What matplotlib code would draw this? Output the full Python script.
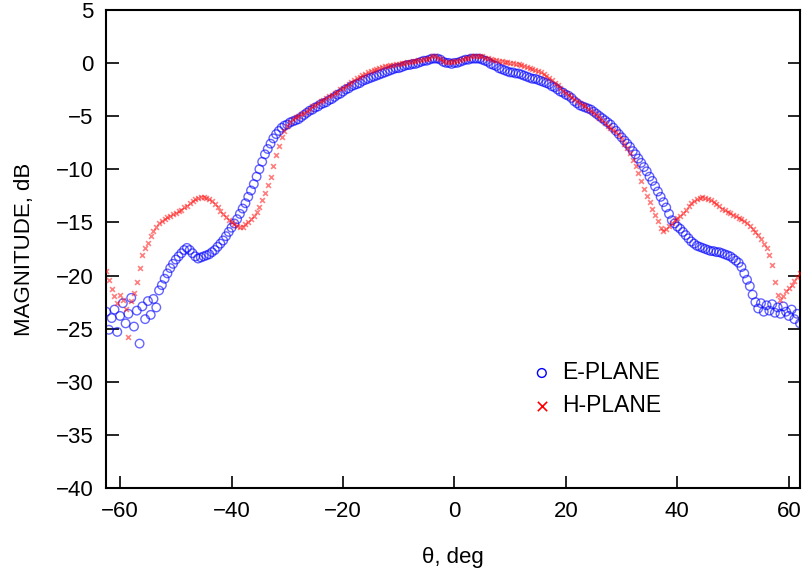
import numpy as np
import matplotlib
matplotlib.use("Agg")
import matplotlib.pyplot as plt

# measured angle grid, 0.5 deg steps
theta = np.arange(-62.5, 62.25, 0.5)

# E-plane magnitude, dB
e_plane = [
    -23.4, -25.1, -24.0, -23.2, -25.3, -23.8, -22.6, -24.5, -23.6, -22.1,
    -24.8, -23.3, -26.4, -22.9, -24.1, -22.4, -23.7, -22.2, -23.0, -21.4,
    -20.9, -20.3, -19.8, -19.3, -18.9, -18.5, -18.2, -17.9, -17.6, -17.4,
    -17.6, -17.9, -18.2, -18.4, -18.3, -18.2, -18.1, -18.0, -17.8, -17.6,
    -17.3, -17.0, -16.7, -16.3, -15.9, -15.5, -15.1, -14.7, -14.2, -13.7,
    -13.2, -12.6, -12.0, -11.4, -10.7, -10.0, -9.3, -8.6, -8.1, -7.6,
    -7.1, -6.7, -6.4, -6.1, -5.9, -5.8, -5.6, -5.5, -5.4, -5.3,
    -5.1, -4.9, -4.7, -4.5, -4.4, -4.2, -4.1, -3.9, -3.8, -3.7,
    -3.5, -3.4, -3.2, -3.0, -2.9, -2.7, -2.5, -2.4, -2.2, -2.1,
    -2.0, -1.9, -1.7, -1.6, -1.5, -1.4, -1.3, -1.2, -1.1, -1.0,
    -0.9, -0.8, -0.7, -0.6, -0.5, -0.5, -0.4, -0.3, -0.2, -0.2,
    -0.1, -0.1, 0.0, 0.1, 0.2, 0.2, 0.3, 0.4, 0.4, 0.4,
    0.3, 0.1, 0.0, 0.0, -0.1, 0.0, 0.0, 0.1, 0.2, 0.3,
    0.3, 0.4, 0.4, 0.4, 0.4, 0.3, 0.2, 0.1, -0.1, -0.2,
    -0.3, -0.5, -0.6, -0.7, -0.8, -0.9, -0.9, -1.0, -1.0, -1.1,
    -1.2, -1.3, -1.4, -1.5, -1.5, -1.6, -1.7, -1.8, -1.9, -2.0,
    -2.2, -2.3, -2.5, -2.7, -2.8, -3.0, -3.1, -3.3, -3.6, -3.8,
    -4.0, -4.1, -4.2, -4.3, -4.4, -4.6, -4.8, -5.0, -5.2, -5.4,
    -5.6, -5.8, -6.1, -6.4, -6.7, -7.0, -7.3, -7.6, -7.9, -8.3,
    -8.6, -9.0, -9.4, -9.8, -10.2, -10.7, -11.1, -11.6, -12.1, -12.6,
    -13.1, -13.6, -14.2, -14.8, -15.1, -15.4, -15.6, -15.9, -16.2, -16.5,
    -16.8, -17.0, -17.2, -17.3, -17.4, -17.5, -17.6, -17.7, -17.7, -17.8,
    -17.8, -17.9, -18.0, -18.1, -18.2, -18.4, -18.6, -18.8, -19.2, -19.8,
    -20.4, -21.0, -21.8, -22.5, -23.1, -22.6, -23.4, -22.8, -23.3, -22.7,
    -23.5, -23.0, -23.6, -22.9, -23.4, -23.8, -23.2, -24.1, -23.6, -24.5,
]

# H-plane magnitude, dB
h_plane = [
    -19.6, -20.4, -21.3, -21.9, -22.6, -21.8, -22.3, -23.1, -25.8, -22.4,
    -21.6, -20.6, -19.3, -18.1, -17.4, -16.9, -16.3, -15.8, -15.4, -15.1,
    -14.9, -14.7, -14.5, -14.4, -14.2, -14.1, -13.9, -13.8, -13.6, -13.5,
    -13.2, -13.0, -12.8, -12.7, -12.6, -12.6, -12.7, -12.8, -13.0, -13.3,
    -13.6, -13.9, -14.2, -14.5, -14.8, -15.0, -15.2, -15.3, -15.4, -15.4,
    -15.2, -15.0, -14.7, -14.4, -14.0, -13.6, -12.9, -12.2, -11.5, -10.7,
    -9.7, -8.7, -7.8, -7.0, -6.4, -5.9, -5.6, -5.3, -5.1, -5.0,
    -4.8, -4.7, -4.5, -4.3, -4.1, -4.0, -3.8, -3.6, -3.5, -3.3,
    -3.1, -3.0, -2.8, -2.7, -2.5, -2.4, -2.2, -2.0, -1.8, -1.6,
    -1.4, -1.3, -1.1, -1.0, -0.9, -0.8, -0.7, -0.6, -0.5, -0.4,
    -0.3, -0.3, -0.2, -0.2, -0.1, -0.1, 0.0, 0.0, 0.1, 0.1,
    0.2, 0.2, 0.3, 0.3, 0.4, 0.4, 0.5, 0.6, 0.6, 0.5,
    0.4, 0.2, 0.1, 0.1, 0.1, 0.2, 0.2, 0.3, 0.4, 0.5,
    0.5, 0.6, 0.6, 0.6, 0.6, 0.6, 0.5, 0.5, 0.4, 0.3,
    0.3, 0.2, 0.2, 0.1, 0.1, 0.0, 0.0, -0.1, -0.1, -0.2,
    -0.3, -0.4, -0.5, -0.6, -0.7, -0.8, -0.9, -1.0, -1.2, -1.4,
    -1.6, -1.9, -2.1, -2.4, -2.6, -2.8, -3.0, -3.2, -3.4, -3.6,
    -3.8, -4.0, -4.1, -4.3, -4.5, -4.7, -4.9, -5.2, -5.4, -5.7,
    -5.9, -6.1, -6.3, -6.5, -6.8, -7.2, -7.6, -8.0, -8.5, -9.1,
    -9.7, -10.4, -11.1, -11.9, -12.5, -13.1, -13.7, -14.3, -14.9, -15.5,
    -15.8, -15.6, -15.3, -15.1, -14.8, -14.6, -14.4, -14.1, -13.8, -13.5,
    -13.2, -13.0, -12.8, -12.7, -12.6, -12.7, -12.8, -12.9, -13.1, -13.3,
    -13.5, -13.7, -13.8, -14.0, -14.1, -14.3, -14.4, -14.6, -14.7, -14.9,
    -15.1, -15.3, -15.6, -15.9, -16.2, -16.6, -17.0, -17.4, -18.1, -19.0,
    -20.6, -21.8, -22.3, -21.9, -21.5, -21.2, -20.9, -20.5, -20.1, -19.8,
]

plt.rcParams['font.family'] = ['Liberation Sans', 'DejaVu Sans']

fig = plt.figure(figsize=(8.04, 5.71), dpi=100)
ax = fig.add_axes([0.132, 0.145, 0.863, 0.838])

ax.scatter(theta, e_plane, s=38, facecolors='none', edgecolors='blue',
           linewidths=1.0, alpha=0.6, label='E-PLANE', zorder=2)
ax.scatter(theta, h_plane, s=12, marker='x', color='red',
           linewidths=1.2, alpha=0.5, label='H-PLANE', zorder=3)

ax.set_xlim(-62.5, 62)
ax.set_ylim(-40, 5)
ax.set_xticks(np.arange(-60, 61, 20))
ax.set_yticks(np.arange(-40, 6, 5))
ax.set_xticklabels([str(t).replace('-', '\u2212') for t in range(-60, 61, 20)])
ax.set_yticklabels([str(t).replace('-', '\u2212') for t in range(-40, 6, 5)])
ax.tick_params(direction='in', length=9, width=1.2, labelsize=16, pad=9,
               top=False, right=True)
for sp in ax.spines.values():
    sp.set_linewidth(1.5)

ax.set_xlabel('\u03b8, deg', fontsize=16, labelpad=18)
ax.set_ylabel('MAGNITUDE, dB', fontsize=16, labelpad=15)

leg = ax.legend(loc='lower left', bbox_to_anchor=(0.585, 0.105), frameon=False,
                fontsize=16.5, handlelength=0.8, handletextpad=0.5,
                labelspacing=0.45, scatterpoints=1)
for h in leg.legend_handles:
    h.set_alpha(1.0)
leg.legend_handles[0].set_sizes([40])
leg.legend_handles[1].set_sizes([45])

fig.savefig('out.png', dpi=100)
